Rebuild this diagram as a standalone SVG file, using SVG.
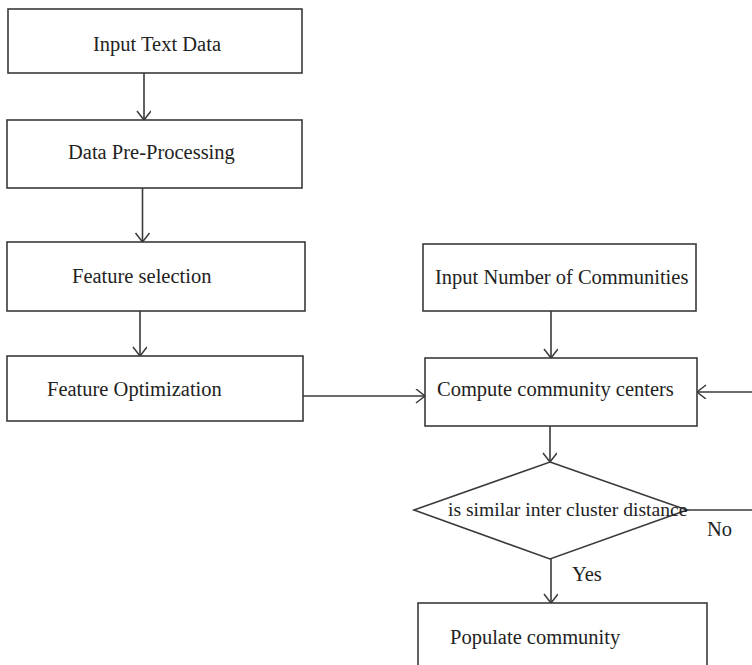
<svg xmlns="http://www.w3.org/2000/svg" width="752" height="665" viewBox="0 0 752 665">
<defs>
<style>
.box{fill:#fff;stroke:#3a3a3a;stroke-width:1.6}
.ln{fill:none;stroke:#3a3a3a;stroke-width:1.6}
.t{font-family:"Liberation Serif","Times New Roman",serif;font-size:20.5px;fill:#222}
.d{font-size:19.6px}
</style>
<marker id="arr" markerUnits="userSpaceOnUse" markerWidth="14" markerHeight="16" refX="10" refY="7" orient="auto">
<path d="M1,0 L10,7 L1,14" fill="none" stroke="#3a3a3a" stroke-width="1.5"/>
</marker>
</defs>
<rect width="752" height="665" fill="#fff"/>
<g id="connectors">
<line class="ln" x1="144" y1="73" x2="144" y2="120" marker-end="url(#arr)"/>
<line class="ln" x1="142.5" y1="188" x2="142.5" y2="242" marker-end="url(#arr)"/>
<line class="ln" x1="140" y1="311" x2="140" y2="356" marker-end="url(#arr)"/>
<line class="ln" x1="303" y1="396" x2="425" y2="396" marker-end="url(#arr)"/>
<line class="ln" x1="551" y1="311" x2="551" y2="358" marker-end="url(#arr)"/>
<line class="ln" x1="550" y1="426" x2="550" y2="462" marker-end="url(#arr)"/>
<line class="ln" x1="551" y1="559" x2="551" y2="603" marker-end="url(#arr)"/>
<line class="ln" x1="687" y1="510" x2="752" y2="510"/>
<line class="ln" x1="752" y1="392" x2="697" y2="392" marker-end="url(#arr)"/>
<text class="t" x="707" y="536">No</text>
<text class="t" x="572" y="581">Yes</text>
</g>
<g id="input-text-data">
<rect class="box" x="8" y="9" width="294" height="64"/>
<text class="t" x="93" y="51">Input Text Data</text>
</g>
<g id="data-preprocessing">
<rect class="box" x="7" y="120" width="295" height="68"/>
<text class="t" x="68" y="159">Data Pre-Processing</text>
</g>
<g id="feature-selection">
<rect class="box" x="7" y="242" width="298" height="69"/>
<text class="t" x="72" y="283">Feature selection</text>
</g>
<g id="feature-optimization">
<rect class="box" x="7" y="356" width="296" height="65"/>
<text class="t" x="47" y="396">Feature Optimization</text>
</g>
<g id="input-number-communities">
<rect class="box" x="423" y="244" width="273" height="67"/>
<text class="t" x="435" y="284">Input Number of Communities</text>
</g>
<g id="compute-centers">
<rect class="box" x="425" y="358" width="272" height="68"/>
<text class="t" x="437" y="396">Compute community centers</text>
</g>
<g id="decision">
<polygon class="box" points="550,462 687,510 550,559 414,510"/>
<text class="t d" x="448" y="516">is similar inter cluster distance</text>
</g>
<g id="populate-community">
<rect class="box" x="418" y="603" width="289" height="80"/>
<text class="t" x="450" y="644">Populate community</text>
</g>
</svg>
